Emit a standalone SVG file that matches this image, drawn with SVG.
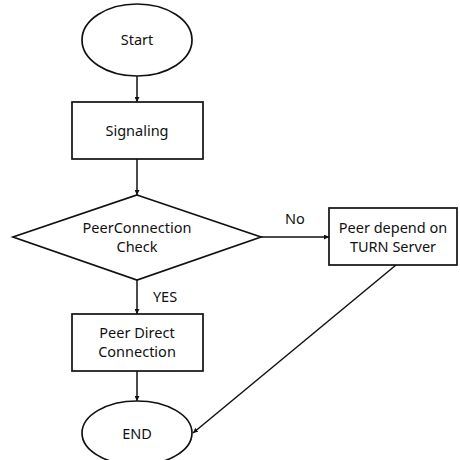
<svg xmlns="http://www.w3.org/2000/svg" width="460" height="460" viewBox="0 0 460 460">
  <style>
    .shape { fill: #ffffff; stroke: #111111; stroke-width: 1.7; }
    .edge { fill: none; stroke: #111111; stroke-width: 1.5; marker-end: url(#arrow); }
    text { font-family: "Noto Sans", "Open Sans", "Liberation Sans", sans-serif; font-size: 14.5px; fill: #111111; text-anchor: middle; }
  </style>
  <defs>
    <marker id="arrow" viewBox="0 0 10 10" refX="10" refY="5" markerWidth="5" markerHeight="5" markerUnits="userSpaceOnUse" orient="auto">
      <path d="M0,0 L10,5 L0,10 z" fill="#111111"/>
    </marker>
  </defs>
  <rect width="460" height="460" fill="#ffffff"/>

  <g id="connectors">
    <line class="edge" x1="137" y1="76" x2="137" y2="102"/>
    <line class="edge" x1="137" y1="159" x2="137" y2="195"/>
    <line class="edge" x1="261" y1="237" x2="329" y2="237"/>
    <line class="edge" x1="137" y1="280" x2="137" y2="314"/>
    <line class="edge" x1="137" y1="371" x2="137" y2="401"/>
    <line class="edge" x1="396" y1="265" x2="193" y2="433"/>
    <text x="295" y="224">No</text>
    <text x="165" y="302">YES</text>
  </g>

  <g id="start">
    <ellipse class="shape" cx="137" cy="40" rx="55" ry="36"/>
    <text x="137" y="45">Start</text>
  </g>

  <g id="signaling">
    <rect class="shape" x="72" y="102" width="131" height="57"/>
    <text x="137" y="136">Signaling</text>
  </g>

  <g id="check">
    <polygon class="shape" points="137,195 261,237 137,280 13,237"/>
    <text x="137" y="233">PeerConnection</text>
    <text x="137" y="252">Check</text>
  </g>

  <g id="turn">
    <rect class="shape" x="329" y="208" width="128" height="57"/>
    <text x="393" y="233">Peer depend on</text>
    <text x="393" y="252">TURN Server</text>
  </g>

  <g id="direct">
    <rect class="shape" x="72" y="314" width="131" height="57"/>
    <text x="137" y="338">Peer Direct</text>
    <text x="137" y="357">Connection</text>
  </g>

  <g id="end">
    <ellipse class="shape" cx="137" cy="433" rx="55" ry="32"/>
    <text x="137" y="439">END</text>
  </g>
</svg>
